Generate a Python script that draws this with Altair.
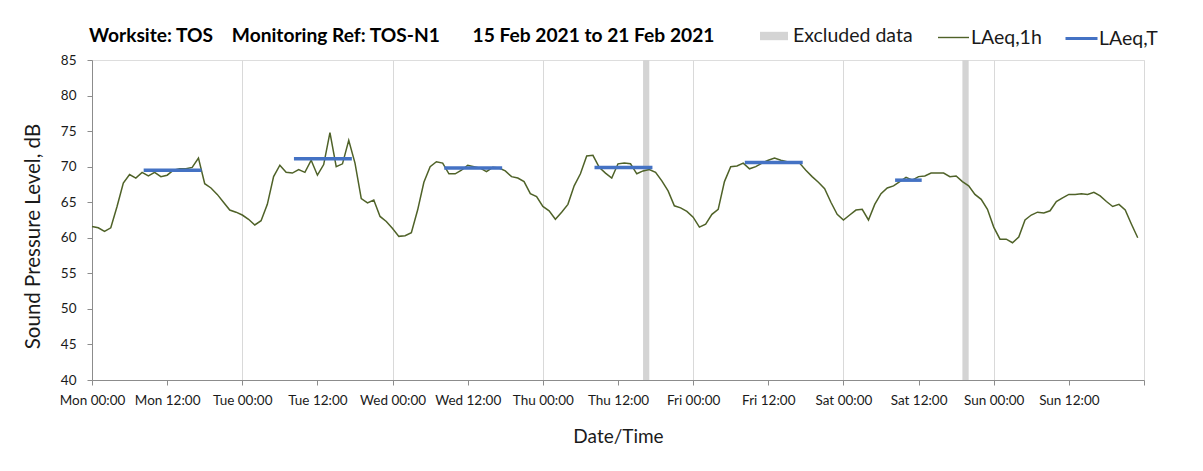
import altair as alt
import pandas as pd

DAY_NAMES = ["Mon", "Tue", "Wed", "Thu", "Fri", "Sat", "Sun"]

# Hourly LAeq,1h from Mon 00:00 (hour 0) to Sun 23:00 (hour 167)
LAEQ_1H = [
    61.6, 61.4, 60.9, 61.4, 64.4, 67.7, 68.9, 68.4, 69.2, 68.7, 69.2, 68.6,
    68.8, 69.5, 69.7, 69.7, 69.9, 71.2, 67.6, 67.0, 66.1, 65.0, 63.9, 63.6,
    63.2, 62.6, 61.8, 62.4, 64.7, 68.6, 70.2, 69.2, 69.1, 69.6, 69.2, 70.9,
    68.8, 70.3, 74.8, 70.0, 70.4, 73.7, 70.5, 65.5, 64.9, 65.3, 63.0, 62.3,
    61.3, 60.2, 60.3, 60.7, 63.9, 67.8, 70.0, 70.7, 70.5, 69.0, 69.0, 69.5,
    70.2, 70.0, 69.8, 69.3, 69.9, 69.8, 69.4, 68.6, 68.4, 67.9, 66.2, 65.8,
    64.4, 63.8, 62.6, 63.6, 64.7, 67.3, 69.0, 71.5, 71.6, 69.9, 69.1, 68.4,
    70.4, 70.5, 70.4, 69.0, 69.4, 69.6, 69.2, 68.0, 66.6, 64.5, 64.2, 63.7,
    62.9, 61.5, 61.9, 63.3, 64.0, 67.9, 70.0, 70.1, 70.5, 69.7, 70.0, 70.5,
    70.9, 71.2, 70.9, 70.7, 70.6, 70.5, 69.5, 68.6, 67.8, 66.9, 65.0, 63.3,
    62.5, 63.2, 63.9, 64.0, 62.5, 64.7, 66.2, 67.0, 67.3, 67.9, 68.5, 68.1,
    68.6, 68.7, 69.1, 69.1, 69.1, 68.6, 68.7, 67.9, 67.3, 66.1, 65.4, 64.0,
    61.5, 59.8, 59.8, 59.3, 60.1, 62.5, 63.2, 63.6, 63.5, 63.8, 65.1, 65.6,
    66.1, 66.1, 66.2, 66.1, 66.4, 65.9, 65.1, 64.4, 64.7, 63.9, 61.9, 60.0,
]

# LAeq,T over the working periods (hours from Mon 00:00)
LAEQ_T_START = [8.25, 32.25, 56.25, 80.25, 104.25, 128.25]
LAEQ_T_END = [17.5, 41.5, 65.5, 89.5, 113.5, 132.5]
LAEQ_T = [69.5, 71.1, 69.8, 69.9, 70.6, 68.1]

# Excluded data periods (hours from Mon 00:00)
EXCL_START = [88, 139]
EXCL_END = [89, 140]

TICK_HOURS = list(range(0, 169, 12))
Y_TICKS = list(range(40, 86, 5))

GREEN = "#4F6228"
BLUE = "#4472C4"
GREY_BAND = "#D4D4D4"
FONT = "Lato"
TXT = "#1A1A1A"

line_df = pd.DataFrame({"hour": list(range(len(LAEQ_1H))), "level": LAEQ_1H,
                        "series": ["LAeq,1h"] * len(LAEQ_1H)})
t_df = pd.DataFrame({"start": LAEQ_T_START, "end": LAEQ_T_END, "level": LAEQ_T,
                     "series": ["LAeq,T"] * len(LAEQ_T)})
ex_df = pd.DataFrame({"start": EXCL_START, "end": EXCL_END,
                      "label": ["Excluded data"] * len(EXCL_START)})

day_arr = "[" + ",".join("'%s'" % d for d in DAY_NAMES) + "]"
label_expr = ("datum.value >= 168 ? '' : " + day_arr +
              "[floor(datum.value / 24)] + (datum.value % 24 == 0 ? ' 00:00' : ' 12:00')")

x_scale = alt.Scale(domain=[0, 168], nice=False, zero=False)
y_scale = alt.Scale(domain=[40, 85], nice=False, zero=False)

x_axis = alt.Axis(
    values=TICK_HOURS, labelExpr=label_expr, title="Date/Time",
    gridColor="#D9D9D9",
    gridOpacity={"condition": {"test": "datum.value % 24 === 0", "value": 1}, "value": 0},
    domainColor="#8C8C8C", tickColor="#8C8C8C", tickSize=5,
    labelFont=FONT, labelFontSize=13.5, labelColor=TXT, labelPadding=8,
    labelFlush=False, labelOverlap=False,
    titleFont=FONT, titleFontSize=19, titleFontWeight="normal", titleColor=TXT,
    titlePadding=21,
)
y_axis = alt.Axis(
    values=Y_TICKS, title="Sound Pressure Level, dB",
    gridColor="#C8C8C8", domainColor="#8C8C8C", tickColor="#8C8C8C", tickSize=5,
    labelFont=FONT, labelFontSize=13.5, labelColor=TXT, labelPadding=11,
    titleFont=FONT, titleFontSize=20.5, titleFontWeight="normal", titleColor=TXT,
    titlePadding=17, titleY=176,
)

bands = alt.Chart(ex_df).mark_rect().encode(
    x=alt.X("start:Q", scale=x_scale, axis=x_axis),
    x2="end:Q",
    y=alt.datum(85, scale=y_scale, axis=y_axis),
    y2=alt.datum(40),
    fill=alt.Fill("label:N", scale=alt.Scale(domain=["Excluded data"], range=[GREY_BAND]),
                  legend=alt.Legend(orient="none", legendX=668, legendY=-38, title=None,
                                    direction="horizontal", padding=0,
                                    symbolType="M-1,-0.3L1,-0.3L1,0.3L-1,0.3Z",
                                    symbolSize=784, symbolStrokeWidth=0,
                                    labelFont=FONT, labelFontSize=19.5, labelColor=TXT,
                                    labelOffset=5)),
)

line = alt.Chart(line_df).mark_line(strokeWidth=1.5).encode(
    x=alt.X("hour:Q", scale=x_scale, axis=x_axis),
    y=alt.Y("level:Q", scale=y_scale, axis=y_axis),
    stroke=alt.Stroke("series:N", scale=alt.Scale(domain=["LAeq,1h"], range=[GREEN]),
                      legend=alt.Legend(orient="none", legendX=845, legendY=-39, title=None,
                                        direction="horizontal", padding=0,
                                        symbolType="stroke", symbolSize=961,
                                        symbolStrokeWidth=1.4,
                                        labelFont=FONT, labelFontSize=19.5, labelColor=TXT,
                                        labelOffset=1)),
)

bars = alt.Chart(t_df).mark_rule(strokeWidth=3.5).encode(
    x=alt.X("start:Q", scale=x_scale, axis=x_axis),
    x2="end:Q",
    y=alt.Y("level:Q", scale=y_scale, axis=y_axis),
    color=alt.Color("series:N", scale=alt.Scale(domain=["LAeq,T"], range=[BLUE]),
                    legend=alt.Legend(orient="none", legendX=972, legendY=-39, title=None,
                                      direction="horizontal", padding=0,
                                      symbolType="stroke", symbolSize=1024,
                                      symbolStrokeWidth=3,
                                      labelFont=FONT, labelFontSize=19.5, labelColor=TXT,
                                      labelOffset=0)),
)

title_text = ("Worksite: TOS" + "\u00a0" * 4 + "Monitoring Ref: TOS-N1" + "\u00a0" * 7 +
              "15 Feb 2021 to 21 Feb 2021")

chart = alt.layer(bands, line, bars).resolve_scale(
    color="independent", stroke="independent", fill="independent"
).properties(
    width=1052, height=320,
    title=alt.TitleParams(text=title_text, anchor="start", frame="group", font=FONT,
                          fontSize=19.2, fontWeight="bold", color="#000000",
                          offset=-25, dx=-3),
    autosize=alt.AutoSizeParams(type="none"),
    padding={"left": 84, "top": 52, "right": 40, "bottom": 70},
).configure_view(stroke="#8C8C8C", strokeWidth=1).configure(background="white")

chart.save("out.html", embed_options={"renderer": "svg", "actions": False})
